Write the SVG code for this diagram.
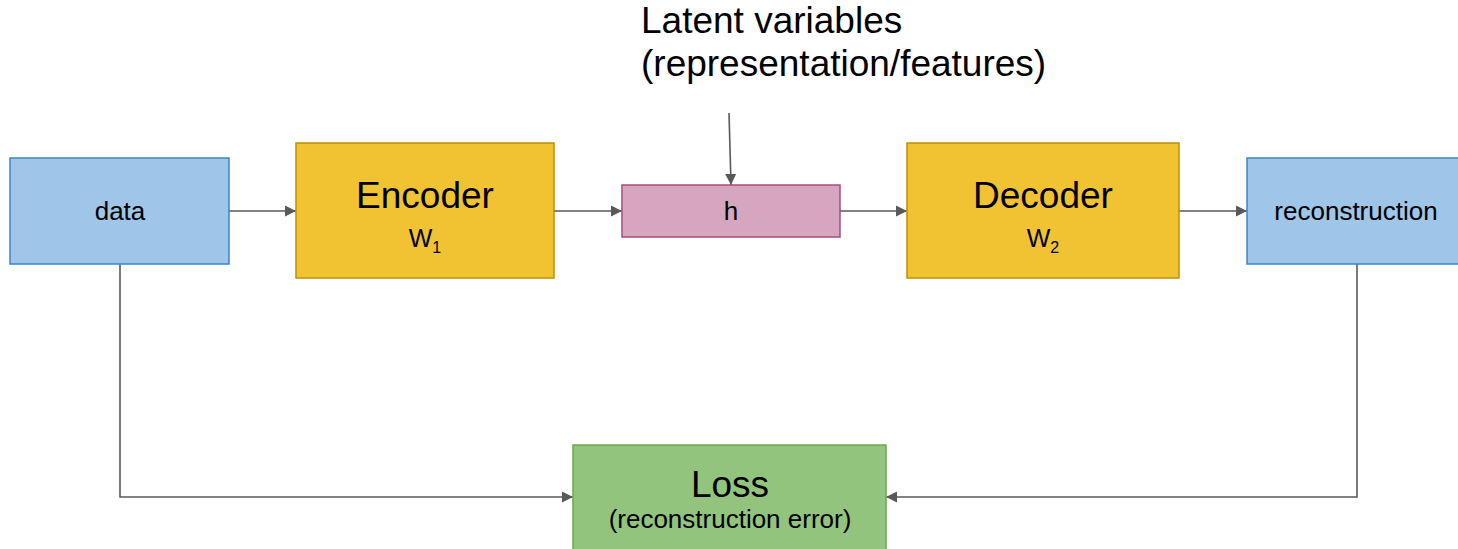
<svg xmlns="http://www.w3.org/2000/svg" width="1458" height="549" viewBox="0 0 1458 549">
  <style>
    text { font-family: "Liberation Sans", Arial, sans-serif; fill: #000; text-anchor: middle; }
    .big { font-size: 37px; }
    .small { font-size: 26px; }
    .w { font-size: 25px; }
    .sub { font-size: 16px; }
    .title { font-size: 37px; text-anchor: start; }
    .blue { fill: #9fc5e8; stroke: #3d85c6; stroke-width: 1.5; }
    .yellow { fill: #f1c232; stroke: #bf9000; stroke-width: 1.5; }
    .pink { fill: #d5a6bd; stroke: #a64d79; stroke-width: 1.5; }
    .green { fill: #93c47d; stroke: #6aa84f; stroke-width: 1.5; }
    .edge { fill: none; stroke: #595959; stroke-width: 1.6; marker-end: url(#arrow); }
  </style>
  <defs>
    <marker id="arrow" viewBox="0 0 10 10" refX="10" refY="5" markerWidth="7" markerHeight="7" markerUnits="strokeWidth" orient="auto">
      <path d="M0,0 L10,5 L0,10 z" fill="#595959"/>
    </marker>
  </defs>
  <rect width="1458" height="549" fill="#ffffff"/>

  <g id="latent-label">
    <text class="title" x="641" y="33">Latent variables</text>
    <text class="title" x="641" y="76">(representation/features)</text>
  </g>

  <g id="connectors">
    <line class="edge" x1="229" y1="211" x2="296" y2="211"/>
    <line class="edge" x1="554" y1="211" x2="622" y2="211"/>
    <line class="edge" x1="840" y1="211" x2="907" y2="211"/>
    <line class="edge" x1="1179" y1="211" x2="1247" y2="211"/>
    <line class="edge" x1="729" y1="113" x2="731" y2="185"/>
    <polyline class="edge" points="120,264 120,497 573,497"/>
    <polyline class="edge" points="1357,264 1357,497 886,497"/>
  </g>

  <g id="data">
    <rect class="blue" x="10" y="158" width="219" height="106"/>
    <text class="small" x="120" y="220">data</text>
  </g>

  <g id="encoder">
    <rect class="yellow" x="296" y="143" width="258" height="135"/>
    <text class="big" x="425" y="208">Encoder</text>
    <text class="w" x="425" y="247">W<tspan class="sub" dy="6">1</tspan></text>
  </g>

  <g id="h">
    <rect class="pink" x="622" y="185" width="218" height="52"/>
    <text class="small" x="731" y="220">h</text>
  </g>

  <g id="decoder">
    <rect class="yellow" x="907" y="143" width="272" height="135"/>
    <text class="big" x="1043" y="208">Decoder</text>
    <text class="w" x="1043" y="247">W<tspan class="sub" dy="6">2</tspan></text>
  </g>

  <g id="reconstruction">
    <rect class="blue" x="1247" y="158" width="219" height="106"/>
    <text class="small" x="1356" y="220">reconstruction</text>
  </g>

  <g id="loss">
    <rect class="green" x="573" y="445" width="313" height="112"/>
    <text class="big" x="730" y="497">Loss</text>
    <text class="small" x="730" y="528">(reconstruction error)</text>
  </g>
</svg>
